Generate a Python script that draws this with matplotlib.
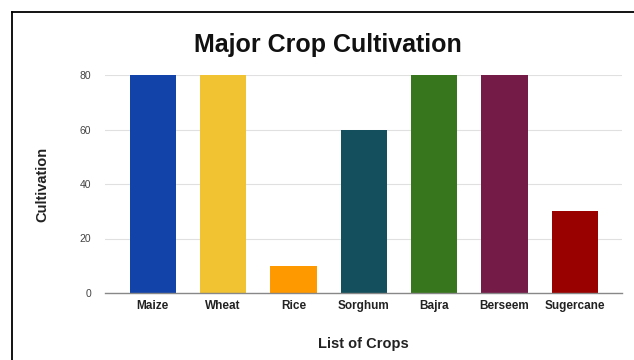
import matplotlib.pyplot as plt
from matplotlib.lines import Line2D

plt.rcParams['font.family'] = ['Liberation Sans', 'DejaVu Sans']

# --- data ---
crops = ['Maize', 'Wheat', 'Rice', 'Sorghum', 'Bajra', 'Berseem', 'Sugercane']
cultivation = [80, 80, 10, 60, 80, 80, 30]
bar_colors = ['#1243a8', '#f1c232', '#ff9900', '#134f5c', '#38761d', '#741b47', '#990000']
y_ticks = [0, 20, 40, 60, 80]

fig = plt.figure(figsize=(6.34, 3.6), dpi=100)
ax = fig.add_axes([105 / 634, 1 - 293 / 360, 517 / 634, 218 / 360])

x = list(range(len(crops)))
ax.bar(x, cultivation, width=0.66, color=bar_colors, zorder=3)

ax.set_xlim(-0.68, 6.67)
ax.set_ylim(0, 80)
ax.set_yticks(y_ticks)
ax.set_xticks(x)
ax.set_xticklabels(crops, fontsize=8.5, fontweight='bold', color='#222222')
ax.tick_params(axis='y', labelsize=7.5, colors='#444444', length=0, pad=10)
ax.tick_params(axis='x', length=0, pad=5)

ax.grid(axis='y', color='#e0e0e0', linewidth=0.8, zorder=0)
for side in ['top', 'right', 'left']:
    ax.spines[side].set_visible(False)
ax.spines['bottom'].set_color('#888888')
ax.spines['bottom'].set_linewidth(1.0)
ax.spines['bottom'].set_zorder(4)

ax.set_xlabel('List of Crops', fontsize=10.5, fontweight='bold', color='#222222', labelpad=18)
ax.set_ylabel('Cultivation', fontsize=10.5, fontweight='bold', color='#222222', labelpad=22)

fig.text(328 / 634, 1 - 45 / 360, 'Major Crop Cultivation', ha='center', va='center',
         fontsize=18, fontweight='bold', color='#111111')

# frame lines (top and left)
fig.add_artist(Line2D([12 / 634, 1.0], [1 - 12 / 360, 1 - 12 / 360], color='black', linewidth=1.3))
fig.add_artist(Line2D([12 / 634, 12 / 634], [0, 1 - 12 / 360], color='black', linewidth=1.3))

fig.savefig('out.png', dpi=100)
